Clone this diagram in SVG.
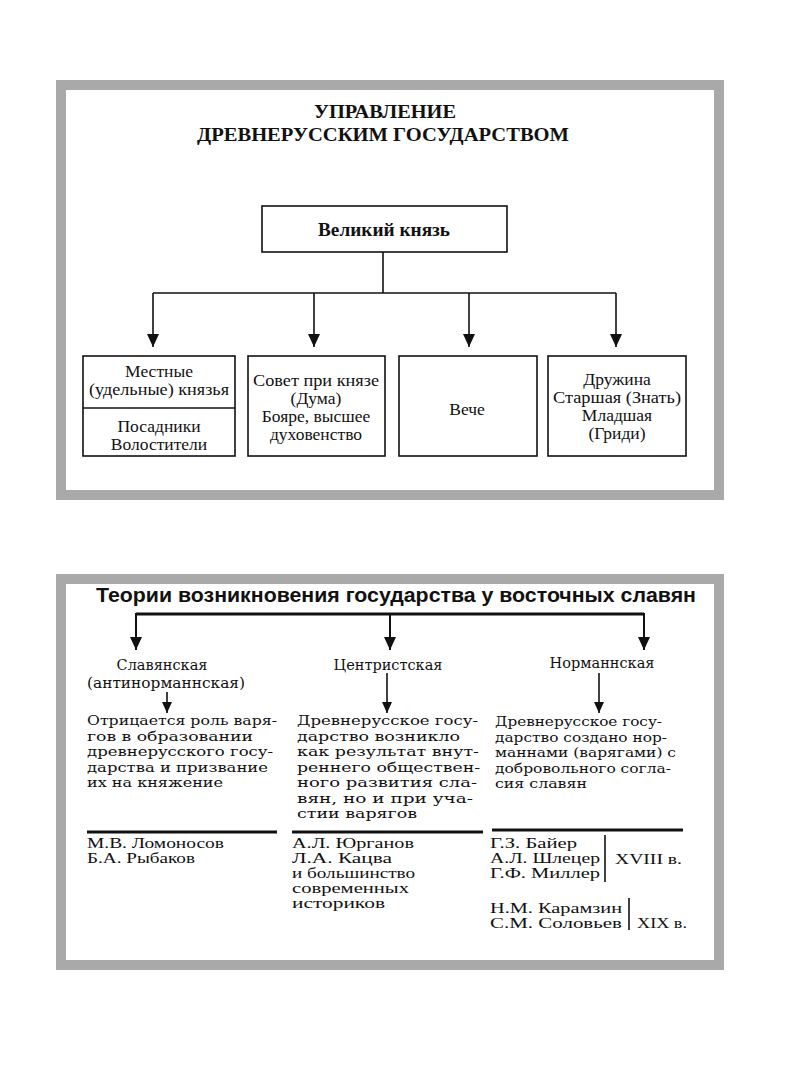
<svg xmlns="http://www.w3.org/2000/svg" width="800" height="1066" viewBox="0 0 800 1066">
<defs>
<style>
.frame{fill:#fff;stroke:#a9a9a9;stroke-width:10}
.box{fill:#fff;stroke:#111;stroke-width:1.6}
.ln{fill:none;stroke:#111;stroke-width:1.6}
.ln2{fill:none;stroke:#111;stroke-width:2}
.ln3{fill:none;stroke:#111;stroke-width:3}
.t1{font-family:"Liberation Serif",serif;font-size:17.5px;fill:#111;text-anchor:middle}
.tb{font-family:"Liberation Serif",serif;font-weight:bold;fill:#111;text-anchor:middle}
.t2{font-family:"DejaVu Serif",serif;font-size:13.5px;fill:#111}
.t2c{font-family:"DejaVu Serif",serif;font-size:14.5px;fill:#111;text-anchor:middle}
.nm{font-family:"Liberation Serif",serif;font-size:15px;fill:#111}
</style>
<marker id="ah" markerUnits="userSpaceOnUse" markerWidth="14" markerHeight="14" refX="13" refY="6" orient="auto">
<path d="M0,0 L13,6 L0,12 Z" fill="#111"/>
</marker>
<marker id="ahs" markerUnits="userSpaceOnUse" markerWidth="12" markerHeight="12" refX="11" refY="5" orient="auto">
<path d="M0,0 L11,5 L0,10 Z" fill="#111"/>
</marker>
</defs>

<!-- Top panel -->
<rect class="frame" x="61" y="85" width="658" height="410"/>
<g id="title1">
<text class="tb" x="385" y="118" font-size="19" textLength="142" lengthAdjust="spacingAndGlyphs">УПРАВЛЕНИЕ</text>
<text class="tb" x="383" y="141" font-size="19" textLength="372" lengthAdjust="spacingAndGlyphs">ДРЕВНЕРУССКИМ ГОСУДАРСТВОМ</text>
</g>
<g id="grand-prince">
<rect class="box" x="262" y="206" width="245" height="46"/>
<text class="tb" x="384" y="236" font-size="19" textLength="132" lengthAdjust="spacingAndGlyphs">Великий князь</text>
</g>
<g id="local-princes">
<rect class="box" x="83" y="356" width="152" height="100"/>
<line class="ln" x1="83" y1="408" x2="235" y2="408"/>
<text class="t1" x="159" y="377">Местные</text>
<text class="t1" x="159" y="395" textLength="140" lengthAdjust="spacingAndGlyphs">(удельные) князья</text>
<text class="t1" x="159" y="432">Посадники</text>
<text class="t1" x="159" y="450">Волостители</text>
</g>
<g id="council">
<rect class="box" x="248" y="356" width="137" height="100"/>
<text class="t1" x="316" y="386" textLength="126" lengthAdjust="spacingAndGlyphs">Совет при князе</text>
<text class="t1" x="316" y="404">(Дума)</text>
<text class="t1" x="316" y="422">Бояре, высшее</text>
<text class="t1" x="316" y="440">духовенство</text>
</g>
<g id="veche">
<rect class="box" x="399" y="356" width="138" height="100"/>
<text class="t1" x="467" y="415">Вече</text>
</g>
<g id="druzhina">
<rect class="box" x="548" y="356" width="138" height="100"/>
<text class="t1" x="617" y="385">Дружина</text>
<text class="t1" x="617" y="403" textLength="128" lengthAdjust="spacingAndGlyphs">Старшая (Знать)</text>
<text class="t1" x="617" y="421">Младшая</text>
<text class="t1" x="617" y="439">(Гриди)</text>
</g>
<g id="connectors-top">
<polyline class="ln" points="383,252 383,293"/>
<line class="ln" x1="153" y1="293" x2="616" y2="293"/>
<line class="ln" x1="153" y1="293" x2="153" y2="347" marker-end="url(#ah)"/>
<line class="ln" x1="314" y1="293" x2="314" y2="347" marker-end="url(#ah)"/>
<line class="ln" x1="469" y1="293" x2="469" y2="347" marker-end="url(#ah)"/>
<line class="ln" x1="616" y1="293" x2="616" y2="347" marker-end="url(#ah)"/>
</g>

<!-- Bottom panel -->
<rect class="frame" x="61" y="579" width="658" height="386"/>
<g id="title2">
<text x="396" y="602" font-family="'Liberation Sans',Arial,sans-serif" font-weight="bold" font-size="20" fill="#111" text-anchor="middle" textLength="600" lengthAdjust="spacingAndGlyphs">Теории возникновения государства у восточных славян</text>
</g>
<g id="connectors-bottom">
<line class="ln3" x1="136" y1="614" x2="644" y2="614"/>
<line class="ln2" x1="136" y1="613" x2="136" y2="650" marker-end="url(#ah)"/>
<line class="ln2" x1="390" y1="614" x2="390" y2="650" marker-end="url(#ah)"/>
<line class="ln2" x1="644" y1="613" x2="644" y2="650" marker-end="url(#ah)"/>
<line class="ln" x1="167" y1="692" x2="167" y2="713" marker-end="url(#ahs)"/>
<line class="ln" x1="387" y1="673" x2="387" y2="713" marker-end="url(#ahs)"/>
<line class="ln" x1="599" y1="673" x2="599" y2="713" marker-end="url(#ahs)"/>
</g>
<g id="slavic">
<text class="t2c" x="162" y="670">Славянская</text>
<text class="t2c" x="166" y="688" textLength="158" lengthAdjust="spacingAndGlyphs">(антинорманнская)</text>
<text class="t2" x="87" y="725" textLength="190" lengthAdjust="spacingAndGlyphs">Отрицается роль варя-</text>
<text class="t2" x="87" y="740.5" textLength="166" lengthAdjust="spacingAndGlyphs">гов в образовании</text>
<text class="t2" x="87" y="756" textLength="186" lengthAdjust="spacingAndGlyphs">древнерусского госу-</text>
<text class="t2" x="87" y="771.5" textLength="181" lengthAdjust="spacingAndGlyphs">дарства и призвание</text>
<text class="t2" x="87" y="787" textLength="136" lengthAdjust="spacingAndGlyphs">их на княжение</text>
<line class="ln3" x1="87" y1="832" x2="277" y2="832"/>
<text class="nm" x="87" y="848" textLength="137" lengthAdjust="spacingAndGlyphs">М.В. Ломоносов</text>
<text class="nm" x="87" y="863" textLength="108" lengthAdjust="spacingAndGlyphs">Б.А. Рыбаков</text>
</g>
<g id="centrist">
<text class="t2c" x="388" y="670">Центристская</text>
<text class="t2" x="297" y="725" textLength="181" lengthAdjust="spacingAndGlyphs">Древнерусское госу-</text>
<text class="t2" x="297" y="740.5" textLength="163" lengthAdjust="spacingAndGlyphs">дарство возникло</text>
<text class="t2" x="297" y="756" textLength="182" lengthAdjust="spacingAndGlyphs">как результат внут-</text>
<text class="t2" x="297" y="771.5" textLength="183" lengthAdjust="spacingAndGlyphs">реннего обществен-</text>
<text class="t2" x="297" y="787" textLength="180" lengthAdjust="spacingAndGlyphs">ного развития сла-</text>
<text class="t2" x="297" y="802.5" textLength="176" lengthAdjust="spacingAndGlyphs">вян, но и при уча-</text>
<text class="t2" x="297" y="818" textLength="120" lengthAdjust="spacingAndGlyphs">стии варягов</text>
<line class="ln3" x1="292" y1="832" x2="483" y2="832"/>
<text class="nm" x="292" y="848" textLength="122" lengthAdjust="spacingAndGlyphs">А.Л. Юрганов</text>
<text class="nm" x="292" y="863" textLength="100" lengthAdjust="spacingAndGlyphs">Л.А. Кацва</text>
<text class="nm" x="292" y="878" textLength="123" lengthAdjust="spacingAndGlyphs">и большинство</text>
<text class="nm" x="292" y="893" textLength="117" lengthAdjust="spacingAndGlyphs">современных</text>
<text class="nm" x="292" y="908" textLength="93" lengthAdjust="spacingAndGlyphs">историков</text>
</g>
<g id="norman">
<text class="t2c" x="602" y="668">Норманнская</text>
<text class="t2" x="495" y="726" textLength="167" lengthAdjust="spacingAndGlyphs">Древнерусское госу-</text>
<text class="t2" x="495" y="741.5" textLength="172" lengthAdjust="spacingAndGlyphs">дарство создано нор-</text>
<text class="t2" x="495" y="757" textLength="181" lengthAdjust="spacingAndGlyphs">маннами (варягами) с</text>
<text class="t2" x="495" y="772.5" textLength="176" lengthAdjust="spacingAndGlyphs">добровольного согла-</text>
<text class="t2" x="495" y="788" textLength="92" lengthAdjust="spacingAndGlyphs">сия славян</text>
<line class="ln3" x1="492" y1="830" x2="683" y2="830"/>
<text class="nm" x="490" y="848" textLength="87" lengthAdjust="spacingAndGlyphs">Г.З. Байер</text>
<text class="nm" x="490" y="863" textLength="110" lengthAdjust="spacingAndGlyphs">А.Л. Шлецер</text>
<text class="nm" x="490" y="878" textLength="110" lengthAdjust="spacingAndGlyphs">Г.Ф. Миллер</text>
<line class="ln" x1="605" y1="835" x2="605" y2="882"/>
<text class="nm" x="615" y="864" textLength="67" lengthAdjust="spacingAndGlyphs">XVIII в.</text>
<text class="nm" x="490" y="913" textLength="132" lengthAdjust="spacingAndGlyphs">Н.М. Карамзин</text>
<text class="nm" x="490" y="928" textLength="132" lengthAdjust="spacingAndGlyphs">С.М. Соловьев</text>
<line class="ln" x1="629" y1="898" x2="629" y2="930"/>
<text class="nm" x="637" y="928" textLength="50" lengthAdjust="spacingAndGlyphs">XIX в.</text>
</g>
</svg>
